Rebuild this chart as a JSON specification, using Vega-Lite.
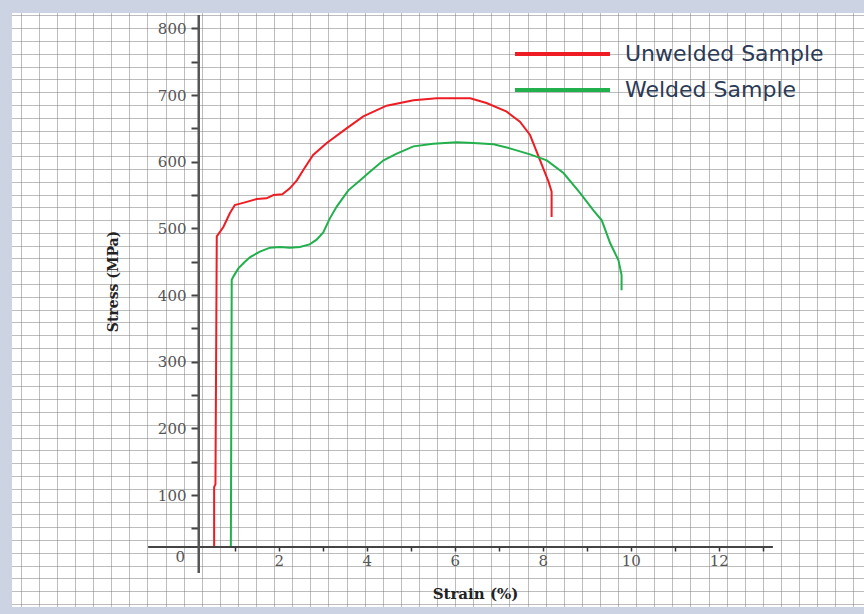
{
  "$schema": "https://vega.github.io/schema/vega-lite/v6.json",
  "width": 852,
  "height": 594,
  "autosize": {"type": "none"},
  "padding": {"left": 12, "top": 13, "right": 0, "bottom": 7},
  "background": "#ccd4e3",
  "config": {
    "view": {"stroke": null, "fill": "white"},
    "axis": {"domain": false, "grid": false}
  },
  "datasets": {
    "curves": [
      {"s": "Unwelded Sample", "o": 1, "x": 0.53, "y": 22},
      {"s": "Unwelded Sample", "o": 2, "x": 0.53, "y": 112},
      {"s": "Unwelded Sample", "o": 3, "x": 0.56, "y": 116},
      {"s": "Unwelded Sample", "o": 4, "x": 0.59, "y": 488},
      {"s": "Unwelded Sample", "o": 5, "x": 0.74, "y": 502},
      {"s": "Unwelded Sample", "o": 6, "x": 0.89, "y": 523},
      {"s": "Unwelded Sample", "o": 7, "x": 1.0, "y": 535},
      {"s": "Unwelded Sample", "o": 8, "x": 1.23, "y": 539},
      {"s": "Unwelded Sample", "o": 9, "x": 1.5, "y": 544},
      {"s": "Unwelded Sample", "o": 10, "x": 1.72, "y": 545},
      {"s": "Unwelded Sample", "o": 11, "x": 1.88, "y": 550},
      {"s": "Unwelded Sample", "o": 12, "x": 2.08, "y": 551},
      {"s": "Unwelded Sample", "o": 13, "x": 2.25, "y": 560},
      {"s": "Unwelded Sample", "o": 14, "x": 2.41, "y": 572},
      {"s": "Unwelded Sample", "o": 15, "x": 2.56, "y": 588},
      {"s": "Unwelded Sample", "o": 16, "x": 2.78, "y": 610},
      {"s": "Unwelded Sample", "o": 17, "x": 3.09, "y": 628},
      {"s": "Unwelded Sample", "o": 18, "x": 3.54, "y": 650},
      {"s": "Unwelded Sample", "o": 19, "x": 3.92, "y": 668},
      {"s": "Unwelded Sample", "o": 20, "x": 4.45, "y": 684},
      {"s": "Unwelded Sample", "o": 21, "x": 5.06, "y": 692},
      {"s": "Unwelded Sample", "o": 22, "x": 5.59, "y": 695},
      {"s": "Unwelded Sample", "o": 23, "x": 6.35, "y": 695},
      {"s": "Unwelded Sample", "o": 24, "x": 6.72, "y": 688},
      {"s": "Unwelded Sample", "o": 25, "x": 7.18, "y": 675},
      {"s": "Unwelded Sample", "o": 26, "x": 7.48, "y": 660},
      {"s": "Unwelded Sample", "o": 27, "x": 7.71, "y": 640},
      {"s": "Unwelded Sample", "o": 28, "x": 7.86, "y": 615},
      {"s": "Unwelded Sample", "o": 29, "x": 8.01, "y": 590},
      {"s": "Unwelded Sample", "o": 30, "x": 8.13, "y": 570},
      {"s": "Unwelded Sample", "o": 31, "x": 8.2, "y": 555},
      {"s": "Unwelded Sample", "o": 32, "x": 8.2, "y": 517},
      {"s": "Welded Sample", "o": 1, "x": 0.91, "y": 22},
      {"s": "Welded Sample", "o": 2, "x": 0.93, "y": 423},
      {"s": "Welded Sample", "o": 3, "x": 0.97, "y": 428},
      {"s": "Welded Sample", "o": 4, "x": 1.08, "y": 440},
      {"s": "Welded Sample", "o": 5, "x": 1.23, "y": 450},
      {"s": "Welded Sample", "o": 6, "x": 1.35, "y": 457},
      {"s": "Welded Sample", "o": 7, "x": 1.57, "y": 465},
      {"s": "Welded Sample", "o": 8, "x": 1.8, "y": 471},
      {"s": "Welded Sample", "o": 9, "x": 2.03, "y": 472},
      {"s": "Welded Sample", "o": 10, "x": 2.25, "y": 471},
      {"s": "Welded Sample", "o": 11, "x": 2.48, "y": 472},
      {"s": "Welded Sample", "o": 12, "x": 2.7, "y": 476},
      {"s": "Welded Sample", "o": 13, "x": 2.86, "y": 483},
      {"s": "Welded Sample", "o": 14, "x": 3.01, "y": 494},
      {"s": "Welded Sample", "o": 15, "x": 3.16, "y": 515},
      {"s": "Welded Sample", "o": 16, "x": 3.32, "y": 533},
      {"s": "Welded Sample", "o": 17, "x": 3.45, "y": 545},
      {"s": "Welded Sample", "o": 18, "x": 3.58, "y": 557},
      {"s": "Welded Sample", "o": 19, "x": 3.85, "y": 572},
      {"s": "Welded Sample", "o": 20, "x": 4.07, "y": 585},
      {"s": "Welded Sample", "o": 21, "x": 4.38, "y": 602},
      {"s": "Welded Sample", "o": 22, "x": 4.68, "y": 612},
      {"s": "Welded Sample", "o": 23, "x": 5.06, "y": 623},
      {"s": "Welded Sample", "o": 24, "x": 5.51, "y": 627},
      {"s": "Welded Sample", "o": 25, "x": 6.04, "y": 629},
      {"s": "Welded Sample", "o": 26, "x": 6.42, "y": 628},
      {"s": "Welded Sample", "o": 27, "x": 6.88, "y": 626},
      {"s": "Welded Sample", "o": 28, "x": 7.25, "y": 620},
      {"s": "Welded Sample", "o": 29, "x": 7.71, "y": 611},
      {"s": "Welded Sample", "o": 30, "x": 8.09, "y": 602},
      {"s": "Welded Sample", "o": 31, "x": 8.47, "y": 583},
      {"s": "Welded Sample", "o": 32, "x": 8.85, "y": 553},
      {"s": "Welded Sample", "o": 33, "x": 9.15, "y": 527},
      {"s": "Welded Sample", "o": 34, "x": 9.34, "y": 512},
      {"s": "Welded Sample", "o": 35, "x": 9.53, "y": 478},
      {"s": "Welded Sample", "o": 36, "x": 9.72, "y": 452},
      {"s": "Welded Sample", "o": 37, "x": 9.79, "y": 430},
      {"s": "Welded Sample", "o": 38, "x": 9.79, "y": 407}
    ]
  },
  "resolve": {"axis": {"x": "independent", "y": "independent"}},
  "layer": [
    {
      "data": {"name": "curves"},
      "mark": {"type": "line", "strokeWidth": 2, "interpolate": "linear"},
      "encoding": {
        "x": {
          "field": "x", "type": "quantitative",
          "scale": {"domain": [-4.064, 15.3], "nice": false, "zero": false},
          "axis": {
            "orient": "bottom", "grid": true, "labels": false, "ticks": false, "domain": false, "title": null,
            "gridColor": "#7a7a7a", "gridDash": [1, 1], "gridWidth": 1, "gridOpacity": 1,
            "values": [-3.866, -3.455, -3.043, -2.632, -2.22, -1.809, -1.398, -0.986, -0.575, -0.163, 0.248, 0.659, 1.071, 1.482, 1.894, 2.305, 2.716, 3.128, 3.539, 3.951, 4.362, 4.773, 5.185, 5.596, 6.008, 6.419, 6.83, 7.242, 7.653, 8.065, 8.476, 8.887, 9.299, 9.71, 10.122, 10.533, 10.944, 11.356, 11.767, 12.179, 12.59, 13.001, 13.413, 13.824, 14.236, 14.647, 15.058]
          }
        },
        "y": {
          "field": "y", "type": "quantitative",
          "scale": {"domain": [-67.9, 823.0], "nice": false, "zero": false},
          "axis": {
            "orient": "left", "grid": true, "labels": false, "ticks": false, "domain": false, "title": null,
            "gridColor": "#7a7a7a", "gridDash": [1, 1], "gridWidth": 1, "gridOpacity": 1,
            "values": [819.3, 800.1, 780.9, 761.7, 742.6, 723.4, 704.2, 685.0, 665.8, 646.6, 627.4, 608.3, 589.1, 569.9, 550.7, 531.5, 512.3, 493.2, 474.0, 454.8, 435.6, 416.4, 397.2, 378.0, 358.9, 339.7, 320.5, 301.3, 282.1, 262.9, 243.7, 224.6, 205.4, 186.2, 167.0, 147.8, 128.6, 109.5, 90.3, 71.1, 51.9, 32.7, 13.5, -5.7, -24.8, -44.0, -63.2]
          }
        },
        "order": {"field": "o", "type": "quantitative"},
        "color": {
          "field": "s", "type": "nominal",
          "scale": {"domain": ["Unwelded Sample", "Welded Sample"], "range": ["#ee1d23", "#21b04b"]},
          "legend": {
            "orient": "none", "legendX": 532.5, "legendY": 23, "title": null, "padding": 0,
            "symbolType": "M-3,0H3", "symbolSize": 1003, "symbolStrokeWidth": 4,
            "labelFont": "DejaVu Sans", "labelFontSize": 22, "labelColor": "#2b3a55",
            "labelOffset": 44.5, "labelLimit": 0, "rowPadding": 7
          }
        }
      }
    },
    {
      "data": {"values": [{}]},
      "mark": {"type": "rule", "color": "#444", "strokeWidth": 2},
      "encoding": {
        "x": {
          "datum": -0.97, "type": "quantitative",
          "axis": {
            "orient": "bottom", "offset": -60, "title": "Strain (%)",
            "values": [0, 1, 2, 3, 4, 5, 6, 7, 8, 9, 10, 11, 12, 13],
            "labelExpr": "datum.value % 2 == 0 ? datum.label : ''",
            "labelFont": "DejaVu Serif", "labelFontSize": 15, "labelColor": "#555",
            "labelPadding": 2,
            "labelOffset": {"condition": {"test": "datum.value == 0", "value": -11}, "value": 0},
            "tickSize": {"condition": {"test": "datum.value == 0", "value": 0}, "value": 4},
            "tickColor": "#333", "tickWidth": 1.5,
            "titleFont": "DejaVu Serif", "titleFontSize": 15, "titleFontWeight": "bold", "titleColor": "#222",
            "titleX": 463, "titleY": 46, "titleAlign": "center", "titleBaseline": "middle"
          }
        },
        "x2": {"datum": 13.23},
        "y": {"datum": 22, "type": "quantitative", "axis": null}
      }
    },
    {
      "data": {"values": [{}]},
      "mark": {"type": "rule", "color": "#555", "strokeWidth": 2.5},
      "encoding": {
        "x": {"datum": 0.18, "type": "quantitative", "axis": null},
        "y": {
          "datum": -17, "type": "quantitative",
          "axis": {
            "orient": "left", "offset": -187, "title": "Stress (MPa)",
            "values": [50, 100, 150, 200, 250, 300, 350, 400, 450, 500, 550, 600, 650, 700, 750, 800],
            "labelExpr": "datum.value % 100 == 0 ? datum.label : ''",
            "labelFont": "DejaVu Serif", "labelFontSize": 15, "labelColor": "#555",
            "labelPadding": 5, "tickSize": 8, "tickColor": "#444", "tickWidth": 2,
            "titleFont": "DejaVu Serif", "titleFontSize": 14, "titleFontWeight": "bold", "titleColor": "#222",
            "titleX": -86, "titleY": 268, "titleAlign": "center", "titleBaseline": "middle", "titleAngle": 270
          }
        },
        "y2": {"datum": 820}
      }
    }
  ]
}
